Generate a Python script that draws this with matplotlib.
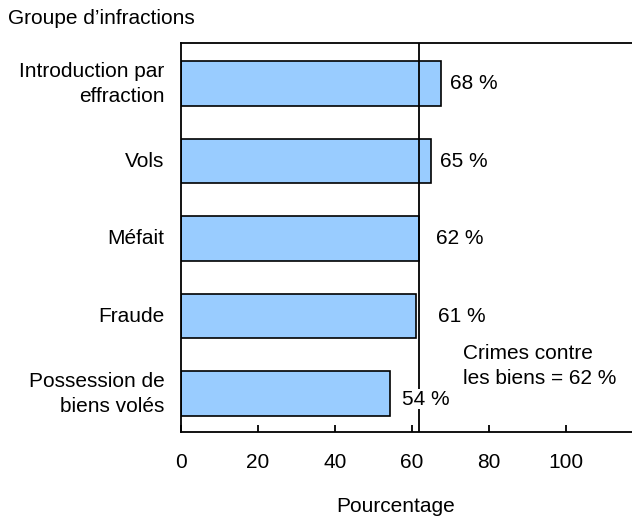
import matplotlib
matplotlib.use("Agg")
import matplotlib.pyplot as plt

plt.rcParams['font.family'] = ['Liberation Sans', 'DejaVu Sans']

categories = ["Introduction par\neffraction", "Vols", "Méfait", "Fraude",
              "Possession de\nbiens volés"]
values = [67.5, 64.8, 61.7, 61.0, 54.3]
value_labels = ["68 %", "65 %", "62 %", "61 %", "54 %"]
total_value = 61.7
total_label = "Crimes contre\nles biens = 62 %"
x_ticks = [0, 20, 40, 60, 80, 100]

FS = 15
# label offsets in points (dx, dy)
label_offsets = [(6.5, 0), (6.8, 0), (12.6, 0), (15.8, 0), (8.6, -4)]

fig = plt.figure(figsize=(6.32, 5.16), dpi=100)
ax = fig.add_axes([181/632, 1-432/516, 1-181/632, (432-43)/516])

y = list(range(len(categories)))
ax.barh(y, values, height=0.574, color="#99CCFF", edgecolor="black",
        linewidth=1.2, zorder=2)
ax.axvline(total_value, color="black", linewidth=1.3, zorder=3)

for yi, v, lab, (dx, dy) in zip(y, values, value_labels, label_offsets):
    ax.annotate(lab, xy=(v, yi), xytext=(dx, dy), textcoords="offset points",
                ha="left", va="center", fontsize=FS, zorder=5,
                bbox=dict(facecolor="white", edgecolor="none", pad=0.5))

ax.set_xlim(0, 117.1)
ax.set_ylim(4.494, -0.523)
ax.set_yticks(y)
ax.set_yticklabels(categories, fontsize=FS, linespacing=1.4, va="center")
ax.tick_params(axis="y", length=0, pad=12)
ax.set_xticks(x_ticks)
ax.set_xticklabels([str(t) for t in x_ticks], fontsize=FS)
ax.tick_params(axis="x", direction="in", length=5, width=1.3, pad=15)

for s in ["left", "top", "bottom"]:
    ax.spines[s].set_linewidth(1.3)
ax.spines["right"].set_visible(False)

fig.text(463/632, 1-366/516, total_label, fontsize=FS, ha="left", va="center",
         linespacing=1.4)
fig.text(8/632, 1-19/516, "Groupe d\u2019infractions", fontsize=FS,
         ha="left", va="center")
fig.text(396/632, 1-506/516, "Pourcentage", fontsize=FS, ha="center",
         va="center")

fig.savefig("out.png", dpi=100)
